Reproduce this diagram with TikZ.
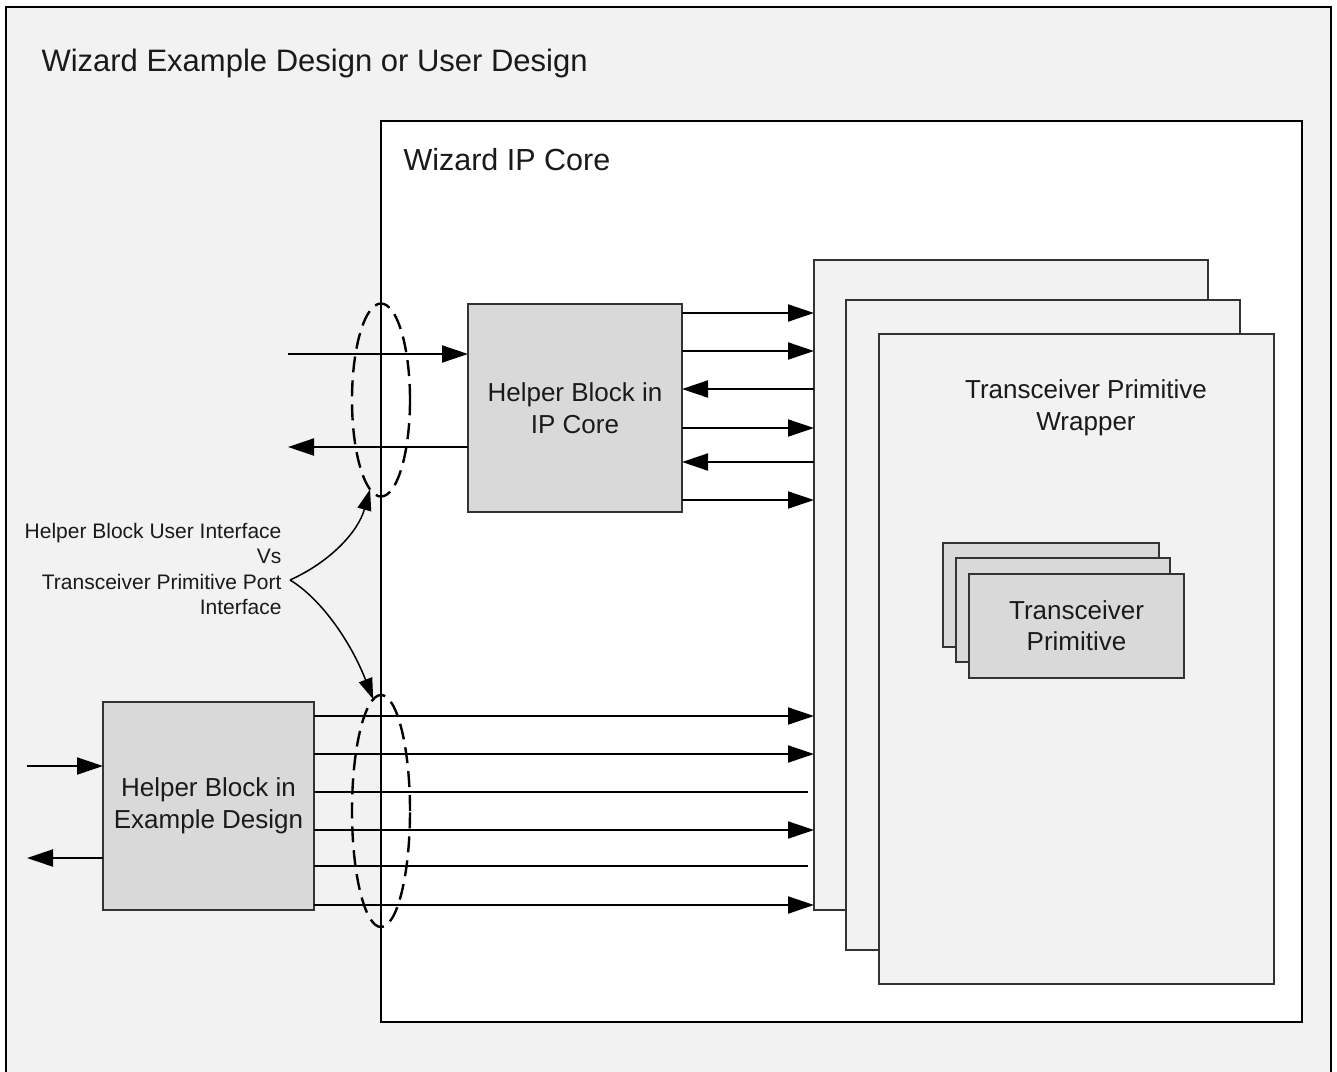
\documentclass[tikz,border=0pt]{standalone}
\usepackage{fontspec}
\setmainfont{Liberation Sans}
\usetikzlibrary{arrows.meta,shapes.geometric}
\definecolor{bgfill}{HTML}{F2F2F2}
\definecolor{blockfill}{HTML}{D9D9D9}
\definecolor{txt}{HTML}{1A1A1A}
\definecolor{edge}{HTML}{333333}
\begin{document}
\begin{tikzpicture}[x=1pt,y=-1pt,
  frame/.style={draw=black, line width=2.5pt, outer sep=0pt, inner sep=0pt, anchor=north west},
  block/.style={draw=edge, line width=1.5pt, fill=blockfill, outer sep=0pt, inner sep=0pt,
     text=txt, align=center, font=\fontsize{26}{32}\selectfont},
  wrapbox/.style={draw=edge, line width=1.5pt, fill=bgfill, outer sep=0pt, inner sep=0pt, anchor=north west},
  primbox/.style={draw=edge, line width=1.5pt, fill=blockfill, outer sep=0pt, inner sep=0pt, anchor=north west},
  sig/.style={line width=2pt, -{Triangle[length=26pt,width=17pt]}},
  bare/.style={line width=2pt},
  curv/.style={line width=1.5pt, -{Triangle[length=21pt,width=14pt]}},
  grp/.style={draw, ellipse, dash pattern=on 16pt off 8pt, line width=2.4pt, inner sep=0pt, outer sep=0pt},
  label/.style={text=txt, font=\fontsize{31}{37}\selectfont}
  ]
\useasboundingbox (0,0) rectangle (1337,1071);
\clip (0,0) rectangle (1337,1071);

% outer design
\node[frame, fill=bgfill, minimum width=1325pt, minimum height=1100pt] (outer) at (6,7) {};
\node[label, anchor=base west] (outertitle) at (38,71) {Wizard Example Design or User Design};

% IP core
\node[frame, fill=white, minimum width=921pt, minimum height=901pt] (ipcore) at (381,121) {};
\node[label, anchor=base west, font=\fontsize{30.5}{37}\selectfont] (iptitle) at (400,170) {Wizard IP Core};

% wrapper stack
\node[wrapbox, minimum width=394pt, minimum height=650pt] (w1) at (814,260) {};
\node[wrapbox, minimum width=394pt, minimum height=650pt] (w2) at (846,300) {};
\node[wrapbox, minimum width=395pt, minimum height=650pt] (w3) at (879,334) {};
\node[text=txt, align=center, font=\fontsize{26}{32}\selectfont] (wraptext) at (1086,408) {Transceiver Primitive\\Wrapper};

% primitive stack
\node[primbox, minimum width=216pt, minimum height=104pt] (p1) at (943,543) {};
\node[primbox, minimum width=214pt, minimum height=104pt] (p2) at (956,558) {};
\node[primbox, minimum width=215pt, minimum height=104pt, align=center, text=txt,
      font=\fontsize{26}{31}\selectfont] (p3) at (969,574) {Transceiver\\Primitive};

% helper blocks
\node[block, minimum width=214pt, minimum height=208pt] (hbip) at (575,408) {Helper Block in\\IP Core};
\node[block, minimum width=211pt, minimum height=208pt] (hbex) at (208.5,806) {Helper Block in\\Example Design};

% upper helper: right side
\foreach \yy in {313,351,428,500} {
  \coordinate (r) at (0,\yy);
  \draw[sig] (hbip.east |- r) -- (w1.west |- r);
}
\foreach \yy in {389,462} {
  \coordinate (r) at (0,\yy);
  \draw[sig] (w1.west |- r) -- (hbip.east |- r);
}
% upper helper: left side
\coordinate (uin) at (288,354);
\coordinate (uout) at (288,447);
\draw[sig] (uin) -- (hbip.west |- uin);
\draw[sig] (hbip.west |- uout) -- (uout);

% lower helper: right side
\foreach \yy in {716,754,830,905} {
  \coordinate (r) at (0,\yy);
  \draw[sig] (hbex.east |- r) -- (w1.west |- r);
}
\foreach \yy in {792,866} {
  \coordinate (r) at (0,\yy);
  \draw[bare, shorten >=6pt] (hbex.east |- r) -- (w1.west |- r);
}
% lower helper: left side
\coordinate (lin) at (27,766);
\coordinate (lout) at (27,858);
\draw[sig] (lin) -- (hbex.west |- lin);
\draw[sig] (hbex.west |- lout) -- (lout);

% interface groupings
\node[grp, minimum width=58pt, minimum height=193pt] (ell1) at (381,400) {};
\node[grp, minimum width=58pt, minimum height=232pt] (ell2) at (381,811) {};

% annotation
\node[anchor=east, align=right, text=txt, font=\fontsize{21}{25.5}\selectfont] (note) at (285,569)
  {Helper Block User Interface\\Vs\\Transceiver Primitive Port\\Interface};
\coordinate (notept) at (290,580);
\draw[curv] (notept) .. controls (330,562) and (358,532) .. (ell1.-97);
\draw[curv] (notept) .. controls (320,598) and (350,640) .. (ell2.94);
\end{tikzpicture}
\end{document}
